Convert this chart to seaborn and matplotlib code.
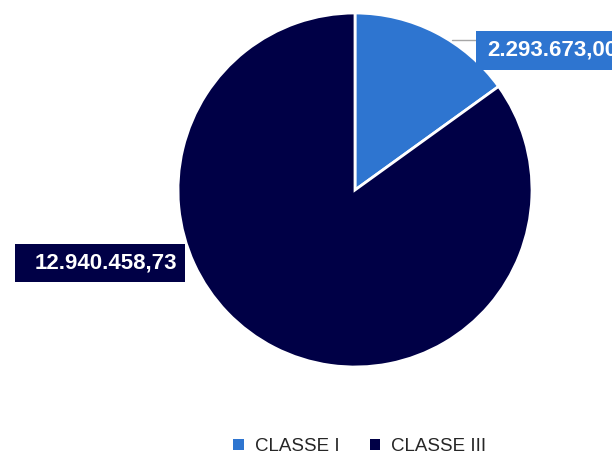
import matplotlib
matplotlib.use("Agg")
import matplotlib.pyplot as plt
import seaborn as sns
from matplotlib.patches import Patch, Rectangle

# data
categorias = ["CLASSE I", "CLASSE III"]
valores = [2293673.00, 12940458.73]
rotulos = ["2.293.673,00", "12.940.458,73"]
cores = ["#2E75D0", "#000046"]

sns.set_theme(style="white")
plt.rcParams['font.family'] = ['Liberation Sans', 'DejaVu Sans']

fig = plt.figure(figsize=(6.12, 4.57), dpi=100)
ax = fig.add_axes([0, 0, 1, 1])

# pie in pixel-like coordinates (y up)
cx, cy, r = 355, 267, 177
ax.pie(valores, colors=cores, startangle=90, counterclock=False,
       center=(cx, cy), radius=r, frame=True,
       wedgeprops=dict(edgecolor="white", linewidth=2))
ax.set_xlim(0, 612)
ax.set_ylim(0, 457)
ax.set_aspect('equal')
ax.axis('off')

# data labels (boxes + leader line)
ax.plot([452, 476], [417, 417], color='#A6A6A6', lw=1, zorder=1)
ax.add_patch(Rectangle((476, 387), 150, 39, fc=cores[0], ec='none', zorder=3))
ax.text(487, 407, rotulos[0], ha='left', va='center', fontsize=16,
        fontweight='bold', color='white', zorder=4)

ax.add_patch(Rectangle((15, 175), 170, 38, fc=cores[1], ec='none', zorder=3))
ax.text(177, 194, rotulos[1], ha='right', va='center', fontsize=16,
        fontweight='bold', color='white', zorder=4)

handles = [Patch(facecolor=c, edgecolor='none') for c in cores]
fig.legend(handles, categorias, loc='center', bbox_to_anchor=(0.588, 0.022),
           ncol=2, frameon=False, fontsize=13.5, handlelength=0.55, handleheight=0.55,
           handletextpad=0.6, columnspacing=1.6, labelcolor='#262626')

fig.savefig("out.png", dpi=100)
